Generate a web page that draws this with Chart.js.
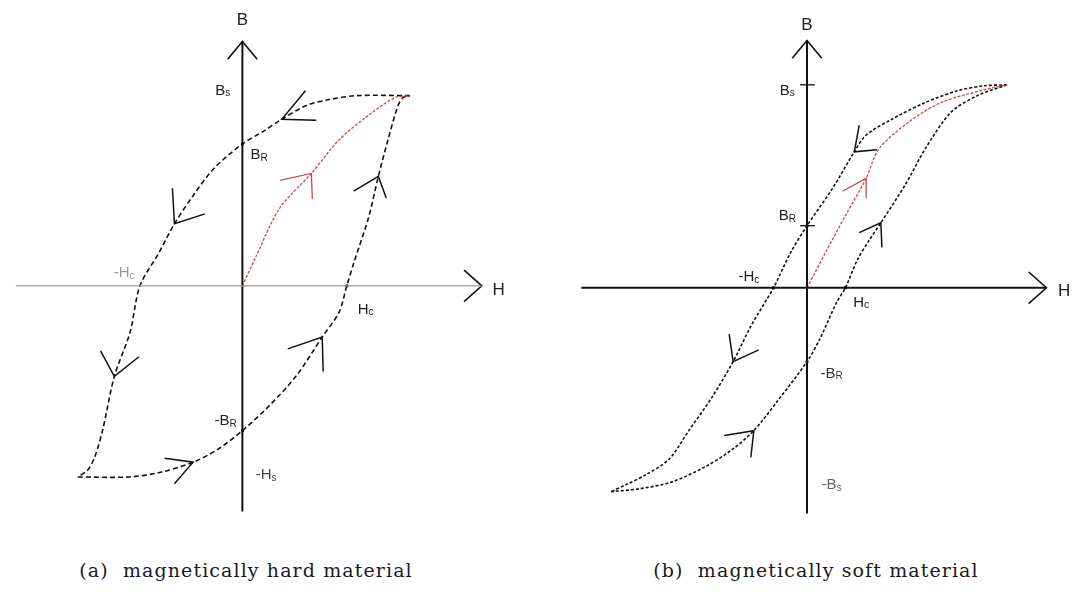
<!DOCTYPE html>
<html>
<head>
<meta charset="utf-8">
<script src="https://cdn.jsdelivr.net/npm/chart.js@4"></script>
<style>
  body { margin: 0; background: #fff; width: 1076px; height: 594px; position: relative; overflow: hidden; }
  canvas { position: absolute; top: 0; }
  #hard { left: 0; }
  #soft { left: 538px; }
  .cap { position: absolute; top: 559px; font-family: "DejaVu Serif", serif; font-size: 19px; letter-spacing: 1.1px;
         color: #1a1a1a; white-space: pre; transform: translateX(-50%); }
</style>
</head>
<body>
<canvas id="hard" width="538" height="545"></canvas>
<canvas id="soft" width="538" height="545"></canvas>
<div class="cap" style="left:246px">(a)  magnetically hard material</div>
<div class="cap" style="left:816px">(b)  magnetically soft material</div>
<script>
// ---- (a) hard material, [H, B] pairs ----
const hardDown = [[17.0,19.3],[11.6,19.3],[8.8,18.9],[6.5,18.3],[4.0,16.9],[2.0,15.6],[0,14.4],[-2.9,11.9],[-4.9,9.3],
  [-6.9,6.3],[-8.5,3.3],[-10.4,0],[-11.4,-4.7],[-13.0,-9.2],[-14.2,-14.7],[-15.0,-17.4],[-15.7,-18.7],[-16.7,-19.4]];
const hardUp = [[-16.7,-19.4],[-11.5,-19.4],[-8.2,-18.9],[-5.0,-17.9],[-2.5,-16.6],[0,-14.7],[2.8,-12.1],[5.5,-9.1],
  [8.1,-5.2],[9.8,-2.7],[10.6,0],[11.3,2.3],[12.8,6.9],[13.8,11.1],[14.8,14.9],[15.8,18.3],[16.3,19.1],[17.0,19.3]];
const hardVirgin = [[0,0],[1.3,2.8],[3.8,7.9],[7.0,11.4],[9.8,14.8],[12.8,17.3],[15.5,19.1],[17.0,19.3]];
// arrow heads: tip, wing, wing
const hardArrows = [
  [[4.0,16.9],[7.5,16.8],[6.4,19.8]],
  [[-6.9,6.3],[-7.1,9.9],[-3.8,7.3]],
  [[-13.0,-9.2],[-14.4,-6.6],[-10.5,-7.2]],
  [[-5.0,-17.9],[-7.9,-17.5],[-6.9,-20.1]],
  [[8.1,-5.2],[4.6,-6.4],[8.2,-8.7]],
  [[13.8,11.1],[11.3,9.6],[14.6,8.9]]
];
const hardVirginArrow = [[7.0,11.4],[3.8,10.7],[7.1,8.8]];
const hardMarks = [[0,14.4],[0,-14.7],[10.6,0]];
const hardLabels = [
  ['B','',0,26.9,'#222'],['H','',26.0,-0.5,'#222'],['B','s',-2.0,19.8,'#222'],['B','R',1.7,13.3,'#222'],
  ['-H','c',-12.0,1.3,'#999'],['H','c',12.5,-2.4,'#222'],['-B','R',-1.7,-13.7,'#222'],['-H','s',2.4,-19.2,'#444']
];
const hardAxisH = [-23.0, 24.3];
const hardAxisB = [-22.9, 24.8];

// ---- (b) soft material ----
const softDown = [[20.3,20.6],[18.0,20.5],[15.3,20.0],[12.0,18.8],[8.6,17.1],[6.0,15.5],[4.8,13.8],[2.6,10.1],[0,6.3],
  [-1.7,3.5],[-3.4,0],[-5.7,-3.9],[-7.5,-7.5],[-9.7,-11.2],[-12.0,-14.5],[-14.0,-17.4],[-16.4,-19.0],[-18.4,-20.0],[-19.9,-20.7]];
const softUp = [[-19.9,-20.7],[-17.0,-20.4],[-13.7,-19.7],[-10.4,-18.2],[-7.7,-16.5],[-5.4,-14.5],[-3.0,-11.5],[0,-7.5],
  [1.3,-5.2],[3.0,-1.5],[3.9,0],[5.1,2.8],[6.3,4.8],[7.5,6.6],[10.0,10.5],[12.0,14.1],[14.6,17.8],[17.3,19.5],[20.3,20.6]];
const softVirgin = [[0,0],[2.0,3.8],[4.0,7.5],[6.0,11.1],[7.3,14.1],[10.3,16.8],[13.6,18.8],[18.0,20.1],[20.3,20.6]];
const softArrows = [
  [[4.8,13.8],[5.3,16.5],[7.1,14.0]],
  [[7.5,6.6],[5.3,5.6],[7.6,4.1]],
  [[-7.5,-7.5],[-7.9,-4.7],[-4.9,-6.3]],
  [[-5.4,-14.5],[-8.4,-15.0],[-5.7,-17.2]]
];
const softVirginArrow = [[6.0,11.1],[3.6,9.8],[6.0,9.1]];
const softMarks = [[0,6.3],[0,-7.5],[-3.4,0],[3.9,0]];
const softTicks = [20.6, 6.3];
const softLabels = [
  ['B','',0,26.6,'#222'],['H','',26.1,-0.4,'#222'],['B','s',-2.0,20.0,'#222'],['B','R',-2.0,7.3,'#222'],
  ['-H','c',-5.9,1.1,'#222'],['H','c',5.5,-1.5,'#222'],['-B','R',2.5,-8.7,'#333'],['-B','s',2.5,-20.0,'#666']
];
const softAxisH = [-22.9, 24.3];
const softAxisB = [-22.9, 25.1];

const pts = arr => arr.map(p => ({ x: p[0], y: p[1] }));

function line(data, color, width, dash, tension) {
  return { data: pts(data), showLine: true, borderColor: color, borderWidth: width, borderDash: dash || [],
    tension: tension || 0, pointRadius: 0, fill: false };
}

function panelDatasets(p) {
  const ds = [];
  const hx = p.axisH, by = p.axisB;
  ds.push(line([[hx[0],0],[hx[1],0]], p.hAxisColor, p.hAxisWidth));
  ds.push(line([[hx[1]-1.8,1.6],[hx[1],0],[hx[1]-1.8,-1.6]], '#111', 1.6));
  ds.push(line([[0,by[0]],[0,by[1]]], '#111', 2));
  ds.push(line([[-1.5,by[1]-1.8],[0,by[1]],[1.5,by[1]-1.8]], '#111', 1.6));
  ds.push(line(p.virgin, 'rgba(214,60,60,0.9)', 1.4, [3,1.5], 0.3));
  ds.push(line(p.down, '#111', 1.6, p.dash, 0.3));
  ds.push(line(p.up, '#111', 1.6, p.dash, 0.3));
  p.arrows.forEach(a => ds.push(line([a[1],a[0],a[2]], '#111', 1.5)));
  const v = p.virginArrow;
  ds.push(line([v[1],v[0],v[2]], 'rgba(200,50,50,0.9)', 1.3));
  (p.ticks || []).forEach(t => ds.push(line([[-0.7,t],[0.8,t]], '#111', 1.3)));
  ds.push({ data: pts(p.marks), showLine: false, pointRadius: 2, pointStyle: 'rect',
    pointBackgroundColor: '#111', pointBorderWidth: 0 });
  return ds;
}

const labelPlugin = {
  id: 'notes',
  afterDatasetsDraw(chart) {
    const { ctx, scales } = chart;
    const list = chart.config.options.plugins.notes.items;
    ctx.save();
    ctx.textBaseline = 'middle';
    list.forEach(([main, sub, h, b, color]) => {
      const big = (main === 'B' || main === 'H') && sub === '' ? 17 : 15;
      const mainFont = big + 'px "Liberation Sans", Arial, sans-serif';
      const subFont = '10px "Liberation Sans", Arial, sans-serif';
      ctx.font = mainFont;
      const w1 = ctx.measureText(main).width;
      ctx.font = subFont;
      const w2 = sub ? ctx.measureText(sub).width : 0;
      const x = scales.x.getPixelForValue(h) - (w1 + w2) / 2;
      const y = scales.y.getPixelForValue(b);
      ctx.fillStyle = color;
      ctx.font = mainFont;
      ctx.fillText(main, x, y);
      if (sub) {
        ctx.font = subFont;
        ctx.fillText(sub, x + w1, y + 3);
      }
    });
    ctx.restore();
  }
};

function makePanel(id, p) {
  new Chart(document.getElementById(id), {
    type: 'scatter',
    data: { datasets: panelDatasets(p) },
    options: {
      responsive: false,
      animation: false,
      layout: { padding: 0 },
      plugins: { legend: { display: false }, tooltip: { enabled: false }, notes: { items: p.labels } },
      scales: {
        x: { type: 'linear', min: p.xRange[0], max: p.xRange[1], display: false },
        y: { type: 'linear', min: p.yRange[0], max: p.yRange[1], display: false }
      }
    },
    plugins: [labelPlugin]
  });
}

makePanel('hard', {
  down: hardDown, up: hardUp, virgin: hardVirgin, arrows: hardArrows, virginArrow: hardVirginArrow,
  marks: hardMarks, labels: hardLabels, axisH: hardAxisH, axisB: hardAxisB,
  hAxisColor: '#9a9a9a', hAxisWidth: 1.3, dash: [5, 3],
  xRange: [-24.2, 29.6], yRange: [-25.9, 28.6]
});

makePanel('soft', {
  down: softDown, up: softUp, virgin: softVirgin, arrows: softArrows, virginArrow: softVirginArrow,
  marks: softMarks, ticks: softTicks, labels: softLabels, axisH: softAxisH, axisB: softAxisB,
  hAxisColor: '#111', hAxisWidth: 2, dash: [3, 2],
  xRange: [-26.9, 26.9], yRange: [-25.7, 28.8]
});
</script>
</body>
</html>
